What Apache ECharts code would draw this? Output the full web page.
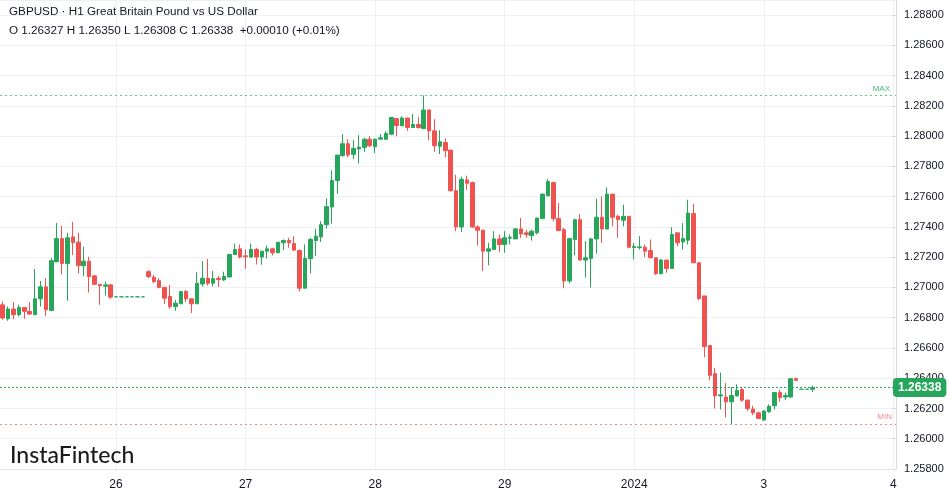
<!DOCTYPE html>
<html><head><meta charset="utf-8">
<script src="https://cdn.jsdelivr.net/npm/echarts@6/dist/echarts.min.js"></script>
<style>html,body{margin:0;padding:0;background:#fff}#c{width:949px;height:494px}</style>
</head><body><div id="c"></div>
<script>
const titleLine = 'GBPUSD · H1 Great Britain Pound vs US Dollar';
const ohlcLine = 'O 1.26327 H 1.26350 L 1.26308 C 1.26338  +0.00010 (+0.01%)';
const brand = 'InstaFintech';
const dayTickIndex = [21, 45, 69, 93, 117, 141, 165];
const dayTickLabel = ['26', '27', '28', '29', '2024', '3', '4'];
const priceMin = 1.258, priceMax = 1.289, priceStep = 0.002;

const open = [
1.26885,1.26793,1.26857,1.26820,1.26868,1.26842,1.26820,1.26925,1.27004,1.26848,1.27170,1.27323,1.27159,1.27334,1.27299,1.27144,1.27174,1.27076,1.27021,1.27008,1.27017,
1.26938,1.26938,1.26938,1.26938,1.26938,1.26938,
1.27104,1.27067,1.27045,1.27001,1.26940,1.26874,1.26892,1.26973,1.26925,1.26892,1.27023,1.27061,1.27028,
1.27060,1.27050,1.27069,1.27218,1.27255,1.27209,1.27201,1.27251,1.27201,1.27240,1.27255,1.27229,1.27295,1.27310,1.27290,1.27244,1.26995,1.27190,1.27310,1.27334,
1.27415,1.27532,1.27707,1.27871,1.27950,1.27880,1.27915,1.27926,1.27980,1.27930,1.27980,1.27980,1.28013,1.28116,1.28068,1.28120,1.28057,1.28077,1.28050,1.28173,
1.28035,1.27934,1.27958,1.27908,1.27639,1.27400,1.27711,1.27693,1.27400,1.27378,1.27240,1.27251,1.27321,1.27284,1.27326,1.27321,1.27387,1.27361,1.27343,1.27361,
1.27455,1.27606,1.27693,1.27455,1.27382,1.27043,1.27317,1.27448,1.27181,1.27192,1.27321,1.27464,1.27387,1.27617,1.27470,1.27444,1.27470,1.27264,1.27264,1.27266,
1.27244,1.27196,1.27091,1.27181,1.27126,1.27361,1.27301,1.27312,1.27488,1.27163,1.26944,1.26616,1.26430,1.26283,1.26276,1.26244,1.26283,1.26325,1.26255,1.26196,
1.26171,1.26124,1.26178,1.26218,1.26305,1.26276,1.26276,1.26397,1.26327,1.26327,1.26327];
const high = [
1.26907,1.26874,1.26903,1.26885,1.26868,1.26903,1.27122,1.27043,1.27061,1.27196,1.27426,1.27407,1.27361,1.27433,1.27361,1.27269,1.27203,1.27083,1.27021,1.27039,1.27023,
1.26938,1.26938,1.26938,1.26938,1.26938,1.26938,
1.27115,1.27083,1.27061,1.27001,1.27017,1.26918,1.26977,1.26984,1.26925,1.27100,1.27174,1.27188,1.27109,
1.27076,1.27104,1.27223,1.27290,1.27284,1.27251,1.27290,1.27262,1.27240,1.27277,1.27262,1.27300,1.27317,1.27328,1.27339,1.27251,1.27284,1.27328,1.27387,1.27437,
1.27590,1.27774,1.27875,1.28013,1.27980,1.27974,1.28007,1.27989,1.28000,1.27985,1.28013,1.28033,1.28127,1.28120,1.28131,1.28120,1.28147,1.28127,1.28270,1.28173,
1.28112,1.28039,1.27985,1.27908,1.27744,1.27733,1.27739,1.27700,1.27411,1.27382,1.27295,1.27372,1.27350,1.27372,1.27350,1.27393,1.27459,1.27382,1.27382,1.27459,
1.27619,1.27718,1.27700,1.27558,1.27393,1.27328,1.27452,1.27485,1.27306,1.27328,1.27586,1.27602,1.27661,1.27617,1.27481,1.27547,1.27470,1.27295,1.27339,1.27284,
1.27317,1.27196,1.27189,1.27181,1.27398,1.27361,1.27426,1.27580,1.27553,1.27163,1.26944,1.26616,1.26469,1.26437,1.26369,1.26342,1.26360,1.26338,1.26259,1.26218,
1.26178,1.26189,1.26228,1.26309,1.26325,1.26305,1.26401,1.26404,1.26327,1.26327,1.26350];
const low = [
1.26787,1.26780,1.26791,1.26809,1.26793,1.26820,1.26820,1.26874,1.26809,1.26848,1.27166,1.27087,1.26912,1.27214,1.27093,1.27076,1.26966,1.27017,1.26885,1.26947,1.26925,
1.26938,1.26938,1.26938,1.26938,1.26938,1.26938,
1.27061,1.27028,1.26995,1.26890,1.26859,1.26846,1.26892,1.26903,1.26831,1.26892,1.27006,1.27012,1.27006,
1.27004,1.27043,1.27069,1.27214,1.27192,1.27124,1.27196,1.27152,1.27150,1.27190,1.27212,1.27227,1.27247,1.27262,1.27240,1.26973,1.26995,1.27093,1.27209,1.27301,
1.27389,1.27422,1.27619,1.27864,1.27860,1.27849,1.27820,1.27897,1.27926,1.27888,1.27980,1.27974,1.28007,1.28000,1.28066,1.28035,1.28055,1.28050,1.28046,1.27974,
1.27897,1.27882,1.27860,1.27634,1.27372,1.27365,1.27645,1.27393,1.27277,1.27109,1.27146,1.27251,1.27234,1.27229,1.27284,1.27321,1.27328,1.27328,1.27310,1.27350,
1.27455,1.27602,1.27437,1.27372,1.26995,1.27028,1.27214,1.27181,1.27065,1.26999,1.27223,1.27295,1.27382,1.27404,1.27328,1.27404,1.27258,1.27185,1.27251,1.27201,
1.27192,1.27082,1.27087,1.27098,1.27126,1.27273,1.27251,1.27284,1.27163,1.26916,1.26539,1.26386,1.26200,1.26193,1.26141,1.26097,1.26280,1.26244,1.26185,1.26156,
1.26130,1.26119,1.26171,1.26193,1.26244,1.26255,1.26272,1.26382,1.26327,1.26327,1.26308];
const close = [
1.26798,1.26857,1.26820,1.26868,1.26842,1.26824,1.26925,1.27004,1.26853,1.27177,1.27323,1.27159,1.27328,1.27297,1.27144,1.27174,1.27072,1.27021,1.27012,1.27017,1.26936,
1.26938,1.26938,1.26938,1.26938,1.26938,1.26938,
1.27072,1.27039,1.26999,1.26929,1.26874,1.26896,1.26973,1.26925,1.26892,1.27028,1.27061,1.27028,1.27058,
1.27052,1.27074,1.27218,1.27251,1.27201,1.27203,1.27251,1.27201,1.27240,1.27255,1.27229,1.27299,1.27310,1.27295,1.27247,1.26995,1.27192,1.27317,1.27339,1.27415,
1.27534,1.27707,1.27875,1.27950,1.27875,1.27919,1.27928,1.27980,1.27937,1.27980,1.27989,1.28018,1.28123,1.28070,1.28120,1.28057,1.28077,1.28057,1.28173,1.28035,
1.27937,1.27963,1.27904,1.27639,1.27400,1.27715,1.27689,1.27400,1.27378,1.27240,1.27255,1.27321,1.27284,1.27328,1.27332,1.27387,1.27354,1.27350,1.27372,1.27459,
1.27617,1.27700,1.27455,1.27376,1.27043,1.27323,1.27448,1.27181,1.27196,1.27321,1.27464,1.27387,1.27617,1.27464,1.27448,1.27470,1.27266,1.27270,1.27268,1.27240,
1.27196,1.27091,1.27181,1.27126,1.27350,1.27295,1.27323,1.27492,1.27163,1.26927,1.26609,1.26419,1.26283,1.26290,1.26244,1.26285,1.26320,1.26255,1.26200,1.26171,
1.26134,1.26183,1.26215,1.26305,1.26272,1.26285,1.26397,1.26386,1.26327,1.26327,1.26338];

const UP = '#26a65b', DOWN = '#ef5350', GRID = '#eef0f3', TEXT = '#131722';
const totalSlots = 166;
const cats = Array.from({length: totalSlots}, (_, i) => String(i));
const candles = open.map((o, i) => {
  const col = close[i] >= o ? UP : DOWN;
  return {value: [o, close[i], low[i], high[i]],
    itemStyle: {color: col, color0: col, borderColor: col, borderColor0: col, borderColorDoji: col}};
});
const lastClose = close[close.length - 1];
const maxHigh = Math.max(...high);
const minLow = Math.min(...low);

function levelSeries(value, lineColor, dash, label) {
  return {
    type: 'line', data: [], silent: true, z: 5, color: lineColor,
    markLine: {
      silent: true, symbol: 'none', precision: 5, z: 5,
      lineStyle: {color: lineColor, type: dash, width: 1, opacity: 1},
      label: label,
      data: [{yAxis: value}]
    }
  };
}

const chart = echarts.init(document.getElementById('c'), null, {renderer: 'canvas'});
chart.setOption({
  animation: false,
  backgroundColor: '#ffffff',
  textStyle: {fontFamily: '"Liberation Sans", Arial, sans-serif'},
  title: [
    {text: titleLine, left: 9, top: 6, padding: 0,
     textStyle: {fontSize: 11.7, fontWeight: 'normal', color: TEXT}},
    {text: ohlcLine, left: 9, top: 25, padding: 0,
     textStyle: {fontSize: 11.7, fontWeight: 'normal', color: TEXT}}
  ],
  graphic: [{type: 'text', left: 10, top: 444, z: 10,
    style: {text: brand, font: '500 23px Lato, "Open Sans", sans-serif', fill: '#1b1b1b'}}],
  grid: {left: -1.7, right: 53, top: 0, bottom: 25, containLabel: false},
  xAxis: {
    type: 'category', data: cats, boundaryGap: true,
    axisLine: {lineStyle: {color: '#e0e3eb'}},
    axisTick: {show: false},
    splitLine: {show: false},
    axisLabel: {
      interval: (i) => dayTickIndex.includes(i),
      formatter: (v, i) => { const k = dayTickIndex.indexOf(i); return k >= 0 ? dayTickLabel[k] : ''; },
      color: TEXT, fontSize: 12, margin: 10
    }
  },
  yAxis: {
    type: 'value', position: 'right', min: priceMin, max: priceMax, interval: priceStep, scale: true,
    axisLine: {show: true, lineStyle: {color: '#d6d9e0'}},
    axisTick: {show: true, inside: true, length: 4, lineStyle: {color: '#d6d9e0'}},
    axisLabel: {formatter: (v) => v.toFixed(5), color: TEXT, fontSize: 11, margin: 8, showMaxLabel: false},
    splitLine: {lineStyle: {color: GRID, width: 1}}
  },
  series: [
    {
      type: 'line', data: [], silent: true, z: 0,
      markLine: {
        silent: true, symbol: 'none', z: 0, label: {show: false},
        lineStyle: {color: GRID, type: 'solid', width: 1},
        data: dayTickIndex.map(i => ({xAxis: i}))
      }
    },
    {
      type: 'candlestick', data: candles, barWidth: 4, z: 2,
      itemStyle: {color: UP, color0: DOWN, borderColor: UP, borderColor0: DOWN, borderWidth: 1}
    },
    levelSeries(maxHigh, '#5cc48a', [2, 3],
      {show: true, position: 'insideEndTop', formatter: 'MAX', color: '#4cb97c', fontSize: 8, distance: [6, 3]}),
    levelSeries(minLow, '#f08a8a', [2, 3],
      {show: true, position: 'insideEndTop', formatter: 'MIN', color: '#f08c8c', fontSize: 8, distance: [4, 3]}),
    levelSeries(lastClose, UP, [2, 2],
      {show: true, position: 'end', formatter: lastClose.toFixed(5), backgroundColor: UP,
       color: '#ffffff', fontSize: 12, fontWeight: 'bold', padding: [4, 5, 3, 5], borderRadius: 4, distance: -3})
  ]
});
</script></body></html>
